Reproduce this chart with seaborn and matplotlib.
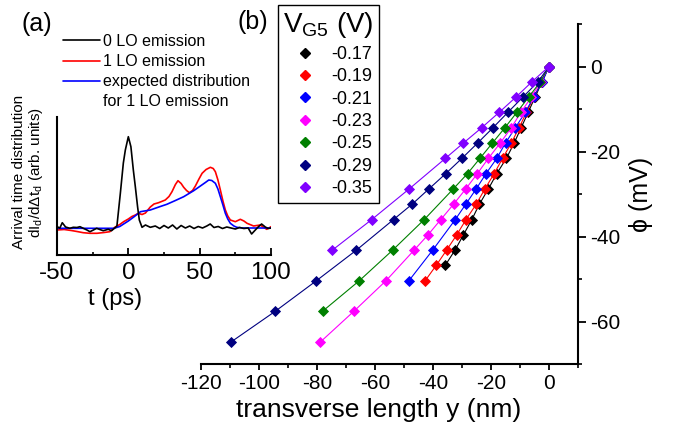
import matplotlib
matplotlib.use('Agg')
import matplotlib.pyplot as plt
from matplotlib.lines import Line2D
from matplotlib.ticker import MultipleLocator, FixedLocator
import seaborn as sns

# ---- panel (a): arrival time distributions ----
t_black = [-50, -48, -46.3, -44, -41, -38.6, -36, -33.9, -31.6, -29, -26.9, -24.5, -22.2, -20,
           -17.6, -14.1, -11.8, -9.5, -8, -5.6, -3.5, -2.1, 0, 1.8, 3.5, 4.9, 6.5, 7.7, 9.6, 12,
           15.4, 18.9, 22, 25, 28, 31, 34, 37, 40, 43, 46, 49, 52, 55, 57.4, 60, 63, 66, 69, 72,
           75, 78, 81, 84, 86.4, 89, 91, 93.4, 96, 98, 100]
v_black = [28.3, 27, 32.3, 28, 26.7, 27.7, 27.5, 28.3, 26.7, 25, 23.3, 25, 26.7, 25.5,
           24.3, 25.7, 24.3, 27, 29, 61.7, 92, 105, 118.3, 108.3, 85, 68.3, 48, 35, 27.7, 30,
           27.7, 29, 26.5, 29.5, 27, 30, 26, 29.5, 27, 29, 26.5, 28.5, 27, 29, 31, 27.5, 28.5, 26.5, 28, 27,
           26, 27.5, 26.5, 27, 21, 25, 28, 31, 28, 26.5, 27]

t_red = [-50, -45, -40, -36, -31.6, -27, -22, -17, -13, -9.5, -6, -3.3, 0, 2.5, 4.9, 7, 9.6, 12,
         15.4, 18, 21.2, 25.9, 28.5, 30.6, 33, 34.8, 37, 38.8, 40.8, 42.8, 45, 47, 49.5, 51.7,
         54.5, 57.5, 59.5, 61, 62.8, 64.5, 66.3, 68, 69.7, 71.5, 75, 78.5, 81, 83.2, 87.8, 92.5,
         95, 97, 100]
v_red = [25, 25.5, 24.5, 23.5, 22.3, 21.7, 21.7, 22.5, 23.3, 27.7, 30.5, 33.3, 36, 38.5, 40, 41.7, 40.5, 42,
         48, 51, 52.3, 55, 58.5, 63.3, 70.5, 74.3, 71.5, 67.7, 64.5, 62.3, 64.5, 69, 76, 81.7,
         85.5, 87.7, 86.5, 83.3, 75, 65, 54, 45, 39, 35, 33.3, 35.7, 34, 31.7, 29, 30,
         27.5, 25.7, 28.3]

t_blue = [-50, -40, -30, -20, -10, -6, -3.3, 0, 3.8, 8.5, 15.4, 22, 27, 33, 38.8, 45.8, 50.5, 54,
          56.4, 58.5, 61, 62.8, 64.5, 66.3, 68, 69.7, 71.5, 74, 76, 80, 90, 100]
v_blue = [26.7, 26.7, 26.7, 26.7, 26.7, 28.5, 31, 34, 38, 43.3, 45, 48.3, 50.7, 54.5, 58.3, 64.3, 69, 72.5,
          75, 74.5, 71.7, 66, 58.3, 50, 41.7, 36, 31.7, 29, 27.7, 27, 27, 27]

# ---- panel (b): potential vs transverse length for each V_G5 ----
vg_labels = ['-0.17', '-0.19', '-0.21', '-0.23', '-0.25', '-0.29', '-0.35']
vg_colors = ['#000000', '#ff0000', '#0000ff', '#ff00ff', '#008000', '#000080', '#8000ff']

y_017 = [0, -2.4, -4.8, -7.2, -9.6, -12.0, -14.7, -18.0, -20.9, -24.0, -26.6, -29.5, -32.4, -35.8]
phi_017 = [0, -3.6, -7.2, -10.8, -14.4, -18.0, -21.6, -25.2, -28.8, -32.4, -36.0, -39.6, -43.2, -46.8]

y_019 = [0, -2.6, -5.2, -7.8, -10.3, -13.0, -16.0, -18.9, -22.1, -25.1, -28.6, -31.8, -35.3, -38.9, -42.7]
phi_019 = [0, -3.6, -7.2, -10.8, -14.4, -18.0, -21.6, -25.2, -28.8, -32.4, -36.0, -39.6, -43.2, -46.8, -50.4]

y_021 = [0, -2.3, -5.3, -8.2, -11.6, -15.0, -18.0, -21.7, -25.1, -28.7, -32.3, -40.1, -48.3]
phi_021 = [0, -3.6, -7.2, -10.8, -14.4, -18.0, -21.6, -25.2, -28.8, -32.4, -36.0, -43.2, -50.4]

y_023 = [0, -2.9, -6.1, -9.7, -13.0, -16.8, -20.9, -24.7, -28.7, -32.9, -37.3, -41.7, -46.5, -56.2, -67.3, -78.8]
phi_023 = [0, -3.6, -7.2, -10.8, -14.4, -18.0, -21.6, -25.2, -28.8, -32.4, -36.0, -39.6, -43.2, -50.4, -57.6, -64.8]

y_025 = [0, -3.0, -7.0, -11.1, -15.2, -19.5, -23.8, -28.1, -33.0, -43.0, -53.9, -65.4, -78.1]
phi_025 = [0, -3.6, -7.2, -10.8, -14.4, -18.0, -21.6, -25.2, -28.8, -36.0, -43.2, -50.4, -57.6]

y_029 = [0, -3.8, -9.0, -14.2, -19.3, -24.6, -30.0, -35.6, -41.4, -47.2, -53.6, -66.4, -80.2, -94.4, -109.6]
phi_029 = [0, -3.6, -7.2, -10.8, -14.4, -18.0, -21.6, -25.2, -28.8, -32.4, -36.0, -43.2, -50.4, -57.6, -64.8]

y_035 = [0, -5.9, -11.4, -17.2, -23.2, -29.5, -35.7, -48.2, -61.1, -74.7]
phi_035 = [0, -3.6, -7.2, -10.8, -14.4, -18.0, -21.6, -28.8, -36.0, -43.2]

sns.set_theme(style='ticks')
plt.rcParams['font.family'] = ['Liberation Sans', 'DejaVu Sans']
plt.rcParams['mathtext.fontset'] = 'custom'
plt.rcParams['mathtext.rm'] = 'Liberation Sans'
plt.rcParams['mathtext.it'] = 'Liberation Sans:italic'
plt.rcParams['axes.unicode_minus'] = False
plt.rcParams['axes.edgecolor'] = 'black'
plt.rcParams['xtick.color'] = 'black'
plt.rcParams['ytick.color'] = 'black'
plt.rcParams['text.color'] = 'black'
plt.rcParams['axes.labelcolor'] = 'black'

W, H = 673, 429
fig = plt.figure(figsize=(W / 100, H / 100), dpi=100)

# panel (b)
axb = fig.add_axes([201 / W, 1 - 364 / H, 377 / W, 340 / H])
axb.patch.set_alpha(0)
xs_all = [y_017, y_019, y_021, y_023, y_025, y_029, y_035]
ys_all = [phi_017, phi_019, phi_021, phi_023, phi_025, phi_029, phi_035]
for xs, ys, col in zip(xs_all, ys_all, vg_colors):
    sns.lineplot(x=xs, y=ys, ax=axb, color=col, lw=0.8, marker='D', ms=5.3, mec=col,
                 mew=0.6, sort=False, estimator=None, legend=False)

axb.set_xlim(-120, 10)
axb.set_ylim(-70, 10)
axb.spines['top'].set_visible(False)
axb.spines['left'].set_visible(False)
for s in ['bottom', 'right']:
    axb.spines[s].set_linewidth(1.5)
axb.yaxis.tick_right()
axb.yaxis.set_label_position('right')
axb.xaxis.set_major_locator(FixedLocator([-120, -100, -80, -60, -40, -20, 0]))
axb.xaxis.set_minor_locator(MultipleLocator(10))
axb.yaxis.set_major_locator(FixedLocator([0, -20, -40, -60]))
axb.yaxis.set_minor_locator(MultipleLocator(10))
axb.tick_params(axis='x', which='major', direction='out', length=4, width=1.3, labelsize=15, pad=3)
axb.tick_params(axis='x', which='minor', direction='out', length=3, width=1.2)
axb.tick_params(axis='y', which='major', direction='out', length=6, width=1.3, labelsize=15, pad=3,
                left=False, right=True)
axb.tick_params(axis='y', which='minor', direction='out', length=3, width=1.2, left=False, right=True)
axb.set_xlabel('transverse length y (nm)', fontsize=19, labelpad=0)
axb.xaxis.set_label_coords(0.47, -0.1)
axb.set_ylabel('\u03d5 (mV)', fontsize=18, labelpad=6, family=['Liberation Sans', 'DejaVu Sans'])

handles = [Line2D([], [], ls='none', marker='D', ms=5.3, color=c, mec=c) for c in vg_colors]
leg = axb.legend(handles, vg_labels, title='V$_{\\mathrm{G5}}$ (V)', loc='upper left',
                 bbox_to_anchor=(278 / W, 1 - 5 / H), bbox_transform=fig.transFigure,
                 borderaxespad=0, fontsize=13, title_fontsize=20, frameon=True, fancybox=False,
                 edgecolor='black', framealpha=1, borderpad=0.3, labelspacing=0.3,
                 handlelength=2.2, handletextpad=0.35)
leg.get_frame().set_linewidth(1.0)

# panel (a)
axa = fig.add_axes([57 / W, 1 - 255 / H, 214 / W, 138 / H])
axa.patch.set_alpha(0)
sns.lineplot(x=t_red, y=v_red, ax=axa, color='#ff0000', lw=1.2, sort=False, estimator=None, zorder=2)
sns.lineplot(x=t_blue, y=v_blue, ax=axa, color='#0000ff', lw=1.2, sort=False, estimator=None, zorder=2.5)
sns.lineplot(x=t_black, y=v_black, ax=axa, color='#000000', lw=1.2, sort=False, estimator=None, zorder=3)
axa.set_xlim(-50, 100)
axa.set_ylim(0, 138)
axa.spines['top'].set_visible(False)
axa.spines['right'].set_visible(False)
axa.spines['left'].set_linewidth(1.5)
axa.spines['bottom'].set_linewidth(1.5)
axa.set_yticks([])
axa.xaxis.set_major_locator(FixedLocator([-50, 0, 50, 100]))
axa.xaxis.set_minor_locator(FixedLocator([-25, 25, 75]))
axa.tick_params(axis='x', which='major', direction='in', length=5, width=1.3, labelsize=17.5, pad=5)
axa.tick_params(axis='x', which='minor', direction='in', length=2.5, width=1.2)
axa.set_xlabel('t (ps)', fontsize=17, labelpad=0)
axa.xaxis.set_label_coords(0.27, -0.24)
axa.set_ylabel('Arrival time distribution\ndI$_\\mathrm{d}$/d\u0394t$_\\mathrm{d}$ (arb. units)',
               fontsize=11, linespacing=1.1)
axa.yaxis.set_label_coords(-0.055, 0.6)

ha = [Line2D([], [], color='#000000', lw=1.2), Line2D([], [], color='#ff0000', lw=1.2),
      Line2D([], [], color='#0000ff', lw=1.2), Line2D([], [], color='none', lw=0)]
la = ['0 LO emission', '1 LO emission', 'expected distribution', 'for 1 LO emission']
axa.legend(ha, la, loc='upper left', bbox_to_anchor=(63 / W, 1 - 34 / H),
           bbox_transform=fig.transFigure, frameon=False, fontsize=11.5, borderpad=0,
           borderaxespad=0, labelspacing=0.32, handlelength=2.3, handletextpad=0.2)

fig.text(37 / W, 1 - 24 / H, '(a)', fontsize=18, ha='center', va='center')
fig.text(253 / W, 1 - 22 / H, '(b)', fontsize=18, ha='center', va='center')

fig.savefig('out.png', dpi=100)
